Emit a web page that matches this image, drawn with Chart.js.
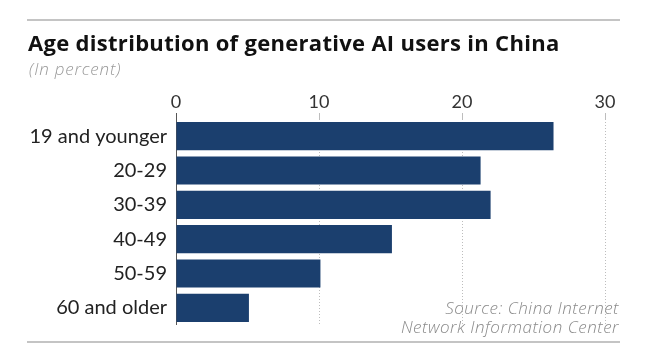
<!DOCTYPE html>
<html>
<head>
<meta charset="utf-8">
<script src="https://cdn.jsdelivr.net/npm/chart.js@4/dist/chart.umd.min.js"></script>
<style>
  html, body { margin: 0; padding: 0; background: #fff; }
  #wrap { position: relative; width: 657px; height: 356px; overflow: hidden; font-family: Lato, "Open Sans", sans-serif; }
  #chart { position: absolute; left: 0; top: 0; }
  .rule { position: absolute; left: 27px; width: 593px; height: 2px; background: #c4c4c4; }
  #title { position: absolute; left: 28px; top: 29px; font-family: "Open Sans", sans-serif; font-size: 22px; font-weight: 700; color: #111; white-space: nowrap; line-height: 26px; letter-spacing: 0.3px; }
  #sub { position: absolute; left: 29px; top: 59px; font-family: "Open Sans", sans-serif; font-size: 17px; font-style: italic; color: #9a9a9a; white-space: nowrap; line-height: 20px; font-weight: 300; letter-spacing: 0.8px; }
  #source { position: absolute; right: 38px; top: 298px; font-family: "Open Sans", sans-serif; font-size: 17px; font-style: italic; color: #8a8a8a; text-align: right; line-height: 19px; font-weight: 300; letter-spacing: 0.5px; }
</style>
</head>
<body>
<div id="wrap">
  <canvas id="chart" width="657" height="356"></canvas>
  <div class="rule" style="top:19px"></div>
  <div id="title">Age distribution of generative AI users in China</div>
  <div id="sub">(In percent)</div>
  <div id="source">Source: China Internet<br>Network Information Center</div>
  <div class="rule" style="top:341px"></div>
</div>
<script>
const categories = ["19 and younger", "20-29", "30-39", "40-49", "50-59", "60 and older"];
const shares = [26.4, 21.3, 22.0, 15.1, 10.1, 5.1];
const tickValues = [0, 10, 20, 30];

new Chart(document.getElementById('chart'), {
  type: 'bar',
  data: {
    labels: categories,
    datasets: [{
      data: shares,
      backgroundColor: '#1b3f6e',
      borderWidth: 0,
      barPercentage: 0.82,
      categoryPercentage: 1.0
    }]
  },
  options: {
    indexAxis: 'y',
    responsive: false,
    animation: false,
    layout: { padding: { left: 0, right: 52, top: 90, bottom: 31 } },
    plugins: { legend: { display: false }, tooltip: { enabled: false }, title: { display: false } },
    scales: {
      x: {
        position: 'top',
        min: 0,
        max: 30,
        afterBuildTicks: (scale) => { scale.ticks = tickValues.map(v => ({ value: v })); },
        afterFit: (scale) => { scale.height = 29; },
        ticks: { color: '#333', font: { family: 'Lato', size: 18 }, padding: 0, maxRotation: 0 },
        grid: {
          drawOnChartArea: true,
          drawTicks: true,
          tickLength: 6,
          lineWidth: 1,
          color: (ctx) => ctx.tick && ctx.tick.value === 0 ? '#555' : '#bdbdbd'
        },
        border: {
          display: false,
          dash: (ctx) => ctx.tick && ctx.tick.value === 0 ? [] : [1, 2]
        }
      },
      y: {
        afterFit: (scale) => { scale.width = 176; },
        ticks: { color: '#222', font: { family: 'Lato', size: 20 }, padding: 9 },
        grid: { display: false, drawTicks: false },
        border: { display: false }
      }
    }
  }
});
</script>
</body>
</html>
